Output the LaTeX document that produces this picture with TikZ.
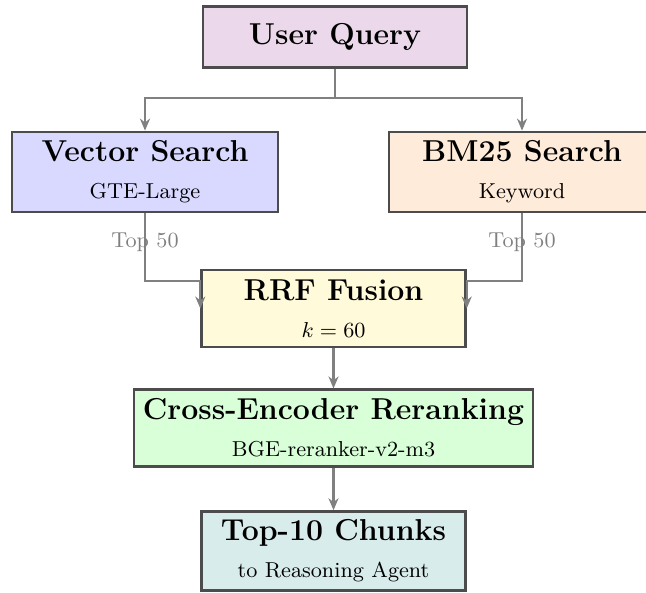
\documentclass[tikz,border=0pt]{standalone}
\usetikzlibrary{arrows.meta}
\definecolor{cUQ}{HTML}{EBD9EB}
\definecolor{cVS}{HTML}{D9D9FF}
\definecolor{cBM}{HTML}{FFEBD9}
\definecolor{cRRF}{HTML}{FFFAD9}
\definecolor{cCE}{HTML}{D9FFD9}
\definecolor{cTop}{HTML}{D9ECEC}
\tikzset{
  box/.style={draw=black!70, line width=1pt, align=center, inner xsep=3.8pt, inner ysep=3pt},
  conn/.style={draw=black!50, line width=0.9pt},
  arr/.style={conn, -{Stealth[length=5pt,width=4.2pt]}},
  lbl/.style={text=black!50, font=\small},
}
\newcommand{\ttlfont}{\fontsize{12.6}{15}\selectfont\bfseries}
\newcommand{\twol}[2]{{\ttlfont #1}\\[3.5pt]{\small #2}}
\begin{document}
\begin{tikzpicture}[x=0.4167pt,y=-0.4167pt]
\useasboundingbox (0,0) rectangle (646,592);
\node[box, fill=cUQ, minimum width=110pt, minimum height=25.5pt, font=\ttlfont] (uq) at (335,37) {User Query};
\node[box, fill=cVS, minimum width=111pt, minimum height=33.5pt] (vec) at (145,172) {\twol{Vector Search}{GTE-Large}};
\node[box, fill=cBM, minimum width=111pt, minimum height=33.5pt] (bm) at (522,172) {\twol{BM25 Search}{Keyword}};
\node[box, fill=cRRF, minimum width=110pt, minimum height=32pt] (rrf) at (333.5,308.5) {\twol{RRF Fusion}{$k=60$}};
\node[box, fill=cCE, minimum width=110pt, minimum height=32pt] (ce) at (333.5,428) {\twol{Cross-Encoder Reranking}{BGE-reranker-v2-m3}};
\node[box, fill=cTop, minimum width=110pt, minimum height=33pt] (top) at (333.5,551) {\twol{Top-10 Chunks}{to Reasoning Agent}};
\coordinate (split) at (335,98);
\draw[conn] (uq.south) -- (split);
\draw[arr] (split) -| (vec.north);
\draw[arr] (split) -| (bm.north);
\draw[arr] (vec.south) -- node[lbl, pos=0.42] (l1) {Top 50} ++(0,68) -| (rrf.west);
\draw[arr] (bm.south) -- node[lbl, pos=0.42] (l2) {Top 50} ++(0,68) -| (rrf.east);
\draw[arr] (rrf.south) -- (ce.north);
\draw[arr] (ce.south) -- (top.north);
\end{tikzpicture}
\end{document}
